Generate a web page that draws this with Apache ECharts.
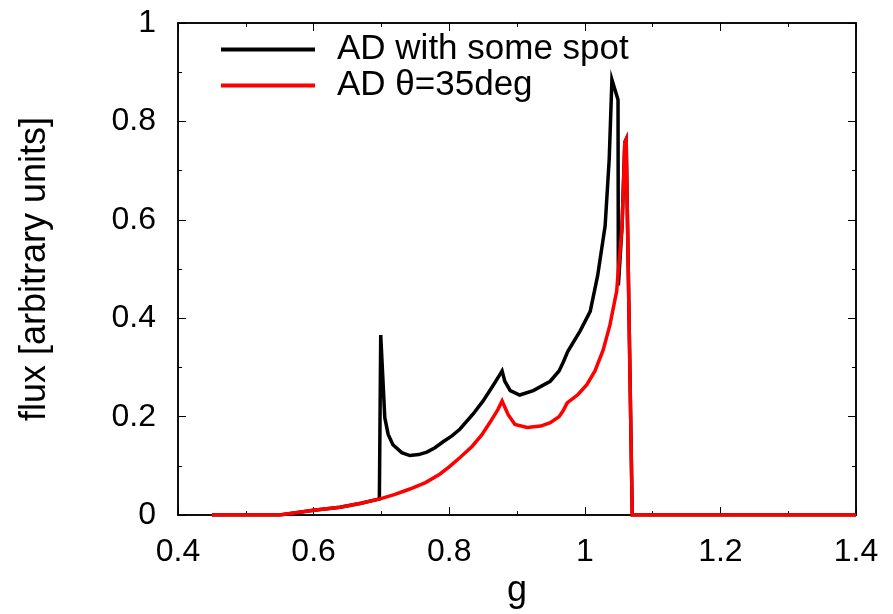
<!DOCTYPE html>
<html>
<head>
<meta charset="utf-8">
<script src="https://cdn.jsdelivr.net/npm/echarts@6/dist/echarts.min.js"></script>
<style>html,body{margin:0;padding:0;background:#fff}#c{width:893px;height:614px}</style>
</head>
<body>
<div id="c"></div>
<script>
var seriesNames = ['AD with some spot', 'AD \u03b8=35deg'];
var xTicks = [0.4, 0.6, 0.8, 1, 1.2, 1.4];
var yTicks = [0, 0.2, 0.4, 0.6, 0.8, 1];

var gRed = [0.45, 0.55, 0.6, 0.639, 0.67, 0.698, 0.72, 0.742, 0.765, 0.786, 0.80, 0.816, 0.834, 0.848, 0.86, 0.872, 0.878, 0.887, 0.897, 0.915, 0.935, 0.949, 0.962, 0.968, 0.974, 0.99, 1.003, 1.015, 1.027, 1.037, 1.047, 1.055, 1.059, 1.061, 1.070, 1.4];
var fRed = [0, 0, 0.01, 0.016, 0.024, 0.033, 0.042, 0.053, 0.066, 0.083, 0.098, 0.117, 0.14, 0.163, 0.188, 0.215, 0.232, 0.204, 0.184, 0.178, 0.181, 0.188, 0.2, 0.212, 0.228, 0.245, 0.265, 0.293, 0.335, 0.386, 0.455, 0.588, 0.758, 0.764, 0, 0];

var gBlack = [0.45, 0.55, 0.6, 0.639, 0.67, 0.697, 0.699, 0.705, 0.71, 0.717, 0.73, 0.742, 0.755, 0.767, 0.779, 0.791, 0.804, 0.816, 0.835, 0.85, 0.865, 0.874, 0.878, 0.882, 0.89, 0.904, 0.924, 0.949, 0.962, 0.968, 0.975, 0.993, 1.008, 1.019, 1.030, 1.036, 1.040, 1.049, 1.0495, 1.055, 1.059, 1.061, 1.070, 1.4];
var fBlack = [0, 0, 0.01, 0.016, 0.024, 0.033, 0.366, 0.198, 0.164, 0.143, 0.127, 0.121, 0.123, 0.128, 0.137, 0.149, 0.161, 0.175, 0.205, 0.232, 0.264, 0.284, 0.293, 0.272, 0.253, 0.244, 0.253, 0.272, 0.293, 0.31, 0.333, 0.374, 0.414, 0.487, 0.588, 0.723, 0.885, 0.844, 0.467, 0.588, 0.758, 0.764, 0, 0];

function pairs(xs, ys) { return xs.map(function (x, i) { return [x, ys[i]]; }); }

var FONT = 'Liberation Sans';
var chart = echarts.init(document.getElementById('c'), null, { renderer: 'canvas' });
var tickCommon = { show: true, inside: true, length: 8, lineStyle: { color: '#000', width: 1 } };
var minorCommon = { show: true, splitNumber: 2, length: 4, lineStyle: { color: '#000', width: 1 } };
chart.setOption({
  animation: false,
  backgroundColor: '#fff',
  grid: { left: 178, right: 37, top: 23, bottom: 96, show: true, borderColor: '#000', borderWidth: 1.5, backgroundColor: 'transparent' },
  legend: {
    orient: 'vertical', left: 221, top: 32, padding: 0, itemGap: 1,
    itemWidth: 94, itemHeight: 4, icon: 'rect',
    textStyle: { fontFamily: FONT, fontSize: 35, color: '#000', lineHeight: 35, padding: [0, 0, 0, 17] },
    data: [
      { name: seriesNames[0], itemStyle: { color: '#000' } },
      { name: seriesNames[1], itemStyle: { color: '#ff0000' } }
    ]
  },
  xAxis: [{
    type: 'value', min: xTicks[0], max: xTicks[xTicks.length - 1], interval: 0.2,
    name: 'g', nameLocation: 'middle', nameGap: 57,
    nameTextStyle: { fontFamily: FONT, fontSize: 36, color: '#000' },
    axisLine: { show: true, onZero: false, lineStyle: { color: '#000', width: 1.5 } },
    axisTick: tickCommon, minorTick: minorCommon,
    axisLabel: { fontFamily: FONT, fontSize: 32, color: '#000', margin: 21 },
    splitLine: { show: false }
  }, {
    type: 'value', position: 'top', min: xTicks[0], max: xTicks[xTicks.length - 1], interval: 0.2,
    axisLine: { show: true, onZero: false, lineStyle: { color: '#000', width: 1.5 } },
    axisTick: tickCommon, minorTick: minorCommon,
    axisLabel: { show: false }, splitLine: { show: false }
  }],
  yAxis: [{
    type: 'value', min: yTicks[0], max: yTicks[yTicks.length - 1], interval: 0.2,
    name: 'flux [arbitrary units]', nameLocation: 'middle', nameGap: 125,
    nameTextStyle: { fontFamily: FONT, fontSize: 36, color: '#000' },
    axisLine: { show: true, onZero: false, lineStyle: { color: '#000', width: 1.5 } },
    axisTick: tickCommon, minorTick: minorCommon,
    axisLabel: { fontFamily: FONT, fontSize: 32, color: '#000', margin: 22 },
    splitLine: { show: false }
  }, {
    type: 'value', position: 'right', min: yTicks[0], max: yTicks[yTicks.length - 1], interval: 0.2,
    axisLine: { show: true, onZero: false, lineStyle: { color: '#000', width: 1.5 } },
    axisTick: tickCommon, minorTick: minorCommon,
    axisLabel: { show: false }, splitLine: { show: false }
  }],
  series: [{
    name: seriesNames[0], type: 'line', data: pairs(gBlack, fBlack), showSymbol: false,
    lineStyle: { color: '#000', width: 3.5, join: 'miter' }, itemStyle: { color: '#000' }, smooth: false, z: 2
  }, {
    name: seriesNames[1], type: 'line', data: pairs(gRed, fRed), showSymbol: false,
    lineStyle: { color: '#ff0000', width: 3.5, join: 'miter' }, itemStyle: { color: '#ff0000' }, smooth: false, z: 3
  }]
});
</script>
</body>
</html>
